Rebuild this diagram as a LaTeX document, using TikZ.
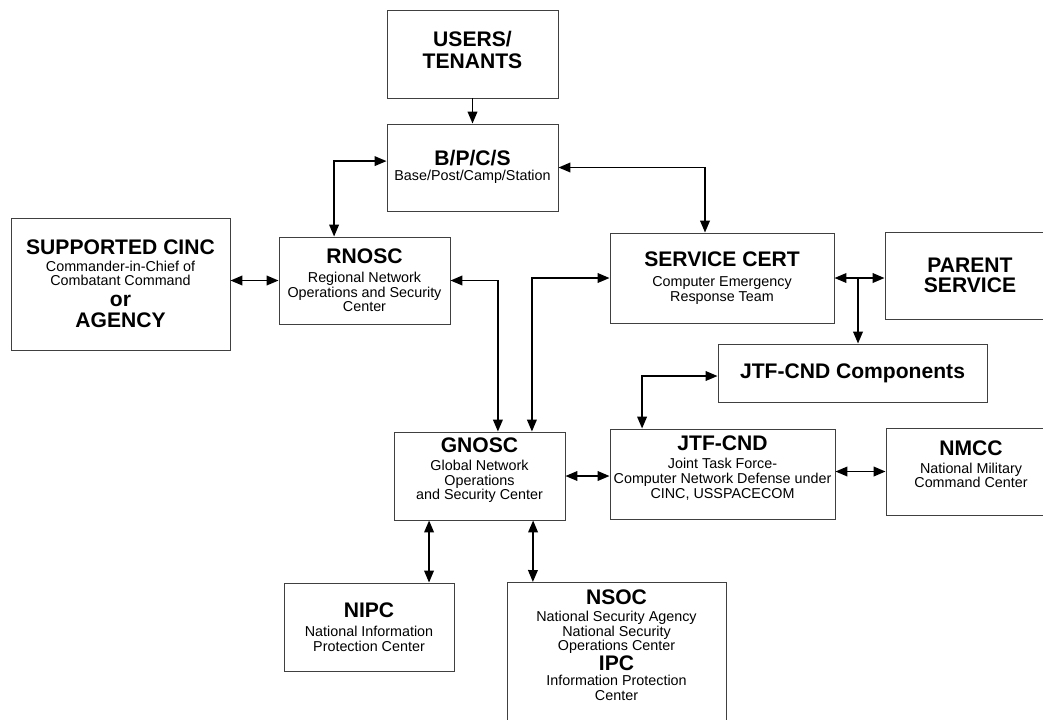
\documentclass[tikz,border=0pt]{standalone}
\usepackage{fontspec}
\setmainfont{Liberation Sans}
\usetikzlibrary{arrows.meta,calc}
\setlength\lineskiplimit{-20pt}
\newcommand\ttlfont{\fontsize{15}{15.4}\selectfont\bfseries}
\newcommand\subfont{\fontsize{10.2}{10.4}\selectfont}

\begin{document}
\begin{tikzpicture}[x=0.025cm, y=-0.025cm,
  box/.style={draw=black!75, line width=0.6pt, align=center, inner sep=2pt, font=\subfont},
  tbox/.style={box, font=\ttlfont},
  arr/.style={-{Triangle[length=3mm,width=2.4mm]}, line width=1.3pt},
  darr/.style={{Triangle[length=3mm,width=2.4mm]}-{Triangle[length=3mm,width=2.4mm]}, line width=1.3pt},
]
\clip (0,0) rectangle (1043,719);

% top row
\node[tbox, minimum width=4.275cm, minimum height=2.2cm, text depth=5.6pt] (users) at (472.5,54) {USERS/\\TENANTS};
\node[box, minimum width=4.275cm, minimum height=2.175cm, text depth=3pt] (bpcs) at (472.5,167.5)
  {{\ttlfont B/P/C/S}\\[0.5pt]Base/Post/Camp/Station};

% middle row
\node[box, minimum width=5.475cm, minimum height=3.3cm] (cinc) at (120.5,284)
  {{\ttlfont SUPPORTED CINC}\\[1.2pt]Commander-in-Chief of\\Combatant Command\\[4.6pt]{\ttlfont or}\\[4.6pt]{\ttlfont AGENCY}};
\node[box, minimum width=4.275cm, minimum height=2.175cm] (rnosc) at (364.5,280.5)
  {{\ttlfont RNOSC}\\[3pt]Regional Network\\Operations and Security\\Center};
\node[box, minimum width=5.6cm, minimum height=2.25cm] (cert) at (722,278)
  {{\ttlfont SERVICE CERT}\\[4pt]Computer Emergency\\Response Team};
\node[tbox, minimum width=4.25cm, minimum height=2.175cm] (parent) at (970,275.5) {PARENT\\[-1.2pt]SERVICE};
\node[tbox, minimum width=6.725cm, minimum height=1.45cm] (comp) at (852.5,373) {JTF-CND Components};

% lower row
\node[box, minimum width=4.275cm, minimum height=2.2cm, text depth=10.5pt] (gnosc) at (479.5,476)
  {{\ttlfont GNOSC}\\[2.5pt]Global Network\\Operations\\and Security Center};
\node[box, minimum width=5.625cm, minimum height=2.25cm, text depth=10pt] (jtf) at (722.5,474)
  {{\ttlfont JTF-CND}\\[2.5pt]Joint Task Force-\\Computer Network Defense under\\CINC, USSPACECOM};
\node[box, minimum width=4.25cm, minimum height=2.175cm, text depth=10pt] (nmcc) at (971,471.5)
  {{\ttlfont NMCC}\\[2pt]National Military\\Command Center};
\node[box, minimum width=4.25cm, minimum height=2.2cm] (nipc) at (369,627)
  {{\ttlfont NIPC}\\[3pt]National Information\\Protection Center};
\node[box, anchor=north, minimum width=5.475cm, inner ysep=5pt, text depth=40pt] (nsoc) at (616.5,582)
  {{\ttlfont NSOC}\\[2pt]National Security Agency\\National Security\\Operations Center\\[3.5pt]{\ttlfont IPC}\\[0.6pt]Information Protection\\Center};

% links
\draw[arr] (users) -- (bpcs);
\draw[darr] ([yshift=1.6mm]bpcs.west) -| ([xshift=-7.6mm]rnosc.north);
\draw[darr] (bpcs.east) -| ([xshift=-4.25mm]cert.north);
\draw[darr] (rnosc.west -| cinc.east) -- (rnosc.west);
\draw[darr] (rnosc.east) -| ([xshift=4.6mm]gnosc.north);
\draw[darr] (cert.west) -| ([xshift=13.1mm]gnosc.north);
\draw[darr] (cert.east) -- (cert.east -| parent.west);
\coordinate (tee) at (858,278);
\draw[arr] (tee) -- (tee |- comp.north);
\draw[darr] ([yshift=-0.75mm]comp.west) -| ([xshift=-20.1mm]jtf.north);
\draw[darr] (gnosc.east) -- (gnosc.east -| jtf.west);
\draw[darr] (jtf.east |- nmcc.west) -- (nmcc.west);
\draw[darr] ([xshift=-12.6mm]gnosc.south) -- ([xshift=15mm]nipc.north);
\draw[darr] ([xshift=13.4mm]gnosc.south) -- ([xshift=-20.9mm]nsoc.north);
\end{tikzpicture}
\end{document}
